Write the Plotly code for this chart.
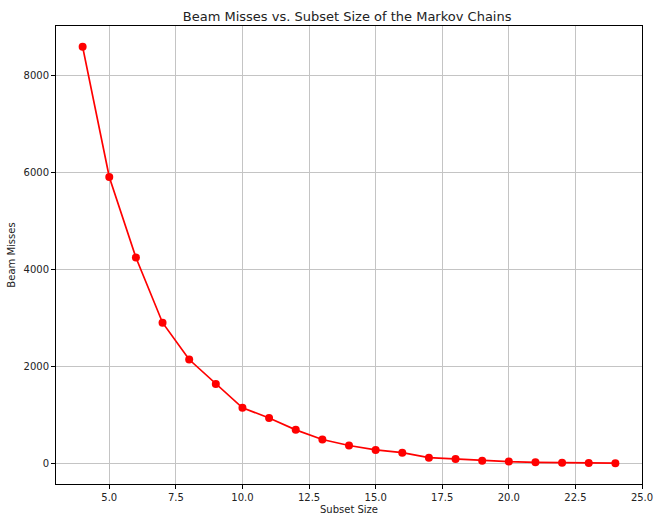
import plotly.graph_objects as go

subset_size = [4, 5, 6, 7, 8, 9, 10, 11, 12, 13, 14, 15, 16, 17, 18, 19, 20, 21, 22, 23, 24]
beam_misses = [8590, 5905, 4245, 2900, 2140, 1635, 1145, 935, 690, 490, 367, 276, 220, 117, 90, 55, 35, 20, 12, 6, 2]

x_ticks = [5.0, 7.5, 10.0, 12.5, 15.0, 17.5, 20.0, 22.5, 25.0]
y_ticks = [0, 2000, 4000, 6000, 8000]

fig = go.Figure()
fig.add_trace(go.Scatter(
    x=subset_size, y=beam_misses, mode="lines+markers",
    line=dict(color="red", width=1.7),
    marker=dict(color="red", size=8),
    showlegend=False,
))

font = "DejaVu Sans, sans-serif"
axis_common = dict(
    showline=True, linecolor="black", linewidth=1, mirror=True,
    ticks="outside", ticklen=4, tickcolor="black", tickwidth=1,
    showgrid=True, gridcolor="#c4c4c4", gridwidth=1,
    zeroline=False, automargin=False,
    tickfont=dict(family=font, size=10, color="#222"),
)
fig.update_layout(
    width=655, height=515,
    margin=dict(l=56, r=13, t=26, b=31),
    paper_bgcolor="white", plot_bgcolor="white",
    title=dict(text="Beam Misses vs. Subset Size of the Markov Chains",
               x=0.53, xanchor="center", y=0.968, yanchor="middle",
               font=dict(family=font, size=13, color="#222")),
    xaxis=dict(range=[3, 25], tickvals=x_ticks, tickformat=".1f",
               title=dict(text="Subset Size", font=dict(family=font, size=10, color="#222"), standoff=4),
               **axis_common),
    yaxis=dict(range=[-427, 9020], tickvals=y_ticks, tickformat="d",
               title=dict(text="Beam Misses", font=dict(family=font, size=10, color="#222"), standoff=6),
               **axis_common),
)
fig.write_html("out.html")
